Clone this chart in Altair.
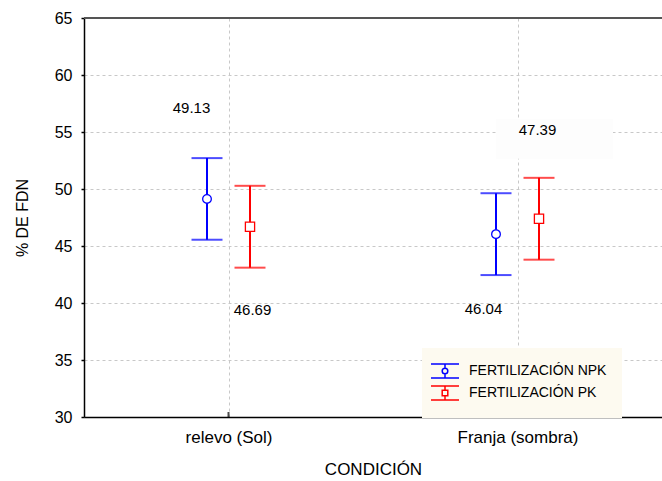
import altair as alt
import pandas as pd

conditions = ["relevo (Sol)", "Franja (sombra)"]
series = ["FERTILIZACIÓN NPK", "FERTILIZACIÓN PK"]
npk_mean = [49.13, 46.04]
npk_low = [45.55, 42.45]
npk_high = [52.71, 49.63]
pk_mean = [46.69, 47.39]
pk_low = [43.10, 43.80]
pk_high = [50.28, 50.98]
y_ticks = [30, 35, 40, 45, 50, 55, 60, 65]

FONT = "Liberation Sans"

rows = []
for i, c in enumerate(conditions):
    rows.append(dict(cond=c, series=series[0], mean=npk_mean[i], low=npk_low[i], high=npk_high[i]))
    rows.append(dict(cond=c, series=series[1], mean=pk_mean[i], low=pk_low[i], high=pk_high[i]))
df = pd.DataFrame(rows)

xenc = alt.X("cond:N", sort=conditions,
             scale=alt.Scale(type="point", padding=0.5),
             axis=alt.Axis(title="CONDICIÓN", titleFont=FONT, titleFontSize=17,
                           titleFontWeight="normal", titleColor="black",
                           titleX=289, titleY=52, titleBaseline="middle",
                           labelFont=FONT, labelFontSize=17, labelColor="black",
                           labelAngle=0, labelAlign="center", labelBaseline="top",
                           labelPadding=12, ticks=False, tickSize=0,
                           domainColor="black", domainWidth=1.5,
                           grid=True, gridColor="#c8c8c8", gridDash=[3, 3], gridWidth=1))
yscale = alt.Scale(domain=[30, 65], nice=False, zero=False)
yaxis = alt.Axis(title="% DE FDN", titleFont=FONT, titleFontSize=16, titleFontWeight="normal",
                 titleColor="black", titleAngle=270, titleX=-62, titleY=199.5,
                 titleBaseline="middle", titleAlign="center",
                 values=y_ticks, labelFont=FONT, labelFontSize=16, labelColor="black",
                 labelPadding=9, tickSize=3, tickColor="black", tickWidth=1.5,
                 domainColor="black", domainWidth=1.5,
                 grid=True, gridColor="#c8c8c8", gridDash=[3, 3], gridWidth=1)

base = alt.Chart(df)

# top border
top = base.mark_rule(color="#555555", strokeWidth=2).encode(
    y=alt.datum(65, scale=yscale, axis=yaxis))

# inward x ticks
xt = alt.Chart(pd.DataFrame({"cond": conditions})).mark_tick(
    orient="vertical", size=5, thickness=2, color="black", yOffset=-2.5).encode(
    x=alt.X("cond:N", sort=conditions), y=alt.datum(30))

layers = [top, xt]
colors = {series[0]: "#0000ff", series[1]: "#ff0000"}
offsets = {series[0]: -21.5, series[1]: 21.5}
mshape = {series[0]: "circle", series[1]: "square"}
msize = {series[0]: 75, series[1]: 85}
for s in series:
    b = base.transform_filter(alt.datum.series == s)
    col = colors[s]
    off = offsets[s]
    layers.append(b.mark_rule(color=col, strokeWidth=2, xOffset=off).encode(
        x=xenc, y=alt.Y("low:Q", scale=yscale), y2="high:Q"))
    layers.append(b.mark_tick(color=col, size=31, thickness=2, xOffset=off, orient="horizontal").encode(
        x=xenc, y=alt.Y("low:Q", scale=yscale)))
    layers.append(b.mark_tick(color=col, size=31, thickness=2, xOffset=off, orient="horizontal").encode(
        x=xenc, y=alt.Y("high:Q", scale=yscale)))
    layers.append(b.mark_point(shape=mshape[s], size=msize[s], filled=True, fill="white",
                               stroke=col, strokeWidth=1.3, opacity=1, xOffset=off).encode(
        x=xenc, y=alt.Y("mean:Q", scale=yscale)))

# faint box behind 47.39
box = base.transform_filter(
    (alt.datum.series == series[1]) & (alt.datum.cond == conditions[1])
).mark_point(shape="M-1,-0.34H1V0.34H-1Z", size=13689, filled=True, color="#fdfdfd",
             opacity=1, xOffset=37, yOffset=-80).encode(
    x=xenc, y=alt.Y("mean:Q", scale=yscale))
layers.append(box)

# value labels
label_offsets = {
    (conditions[0], series[0]): (-37, -91),
    (conditions[0], series[1]): (24, 83),
    (conditions[1], series[0]): (-34, 75),
    (conditions[1], series[1]): (20, -89),
}
for (c, s), (dx, dy) in label_offsets.items():
    layers.append(base.transform_filter(
        (alt.datum.series == s) & (alt.datum.cond == c)
    ).mark_text(font=FONT, fontSize=15, color="black", dx=dx, dy=dy).encode(
        x=xenc, y=alt.Y("mean:Q", scale=yscale), text=alt.Text("mean:Q", format=".2f")))

# legend layer (no marks drawn)
npk_path = "M-2,-1H2M-2,1H2M0,-1V-0.4M0,0.4V1M-0.4,0A0.4,0.4,0,1,0,0.4,0A0.4,0.4,0,1,0,-0.4,0Z"
pk_path = "M-2,-1H2M-2,1H2M0,-1V-0.4M0,0.4V1M-0.4,-0.4H0.4V0.4H-0.4Z"
leg = base.transform_filter("false").mark_point(filled=False, strokeWidth=1.5).encode(
    x=xenc, y=alt.Y("mean:Q", scale=yscale),
    color=alt.Color("series:N", scale=alt.Scale(domain=series, range=["#0000ff", "#ff0000"]),
                    legend=alt.Legend(title=None, orient="none", legendX=338, legendY=330,
                                      fillColor="#fdfaf0", padding=15,
                                      labelFont=FONT, labelFontSize=14, labelColor="black",
                                      symbolSize=196, symbolStrokeWidth=1.5,
                                      symbolFillColor="white", symbolOpacity=1,
                                      labelOffset=16, rowPadding=2)),
    shape=alt.Shape("series:N", scale=alt.Scale(domain=series, range=[npk_path, pk_path])),
)
layers.append(leg)

chart = alt.layer(*layers).properties(
    width=578, height=399,
    autosize=alt.AutoSizeParams(type="none"),
    padding={"left": 84, "top": 18, "right": 0, "bottom": 64},
    background="white",
).configure_view(stroke=None)

chart.save("out.html", embed_options={"renderer": "svg", "actions": False})
